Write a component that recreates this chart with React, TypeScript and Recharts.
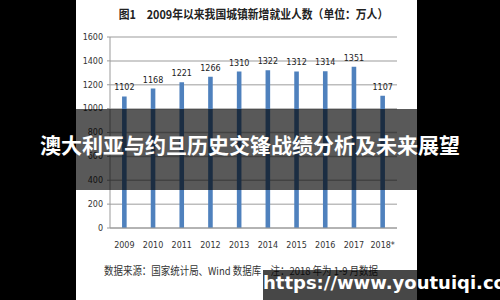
import React from "react";
import { BarChart, Bar, XAxis, YAxis, CartesianGrid, LabelList } from "recharts";

const years = ["2009", "2010", "2011", "2012", "2013", "2014", "2015", "2016", "2017", "2018*"];
const newJobs = [1102, 1168, 1221, 1266, 1310, 1322, 1312, 1314, 1351, 1107];
const yTicks = [0, 200, 400, 600, 800, 1000, 1200, 1400, 1600];

const titleText = "图1　2009年以来我国城镇新增就业人数（单位：万人）";
const sourceText = "数据来源：国家统计局、Wind 数据库　注：2018 年为 1-9 月数据";
const overlayText = "澳大利亚与约旦历史交锋战绩分析及未来展望";
const watermarkText = "https://www.youtuiqi.com";

const data = years.map((y, i) => ({ year: y, value: newJobs[i] }));

export default function App() {
  return (
    <div style={{ position: "fixed", left: 0, top: 0, width: 500, height: 300, background: "#000", overflow: "hidden" }}>
      <div style={{ position: "absolute", left: 76, top: 0, width: 341, height: 300, background: "#fff" }} />
      <div
        style={{
          position: "absolute", left: 76, top: 5, width: 341, textAlign: "center",
          fontFamily: "'Noto Sans CJK SC', sans-serif", fontWeight: 700, fontSize: 12, color: "#222",
          whiteSpace: "nowrap", transform: "scaleX(0.9)", transformOrigin: "240px 0",
        }}
      >
        {titleText}
      </div>
      <div style={{ position: "absolute", left: 0, top: 0 }}>
        <BarChart
          width={500}
          height={300}
          data={data}
          margin={{ top: 37, right: 103, bottom: 42, left: 70 }}
          barCategoryGap="58%"
        >
          <CartesianGrid vertical={false} stroke="#bdbdbd" strokeWidth={1.5} />
          <XAxis
            dataKey="year"
            height={30}
            stroke="#9a9a9a"
            tickLine={false}
            tick={{ fontSize: 8, fill: "#333", fontFamily: "'DejaVu Sans', sans-serif" }}
            tickMargin={8}
          />
          <YAxis
            width={40}
            domain={[0, 1600]}
            ticks={yTicks}
            stroke="#9a9a9a"
            tickSize={3}
            tickMargin={4}
            tick={{ fontSize: 8, fill: "#333", fontFamily: "'DejaVu Sans', sans-serif" }}
          />
          <Bar dataKey="value" fill="#4f81bd" isAnimationActive={false}>
            <LabelList
              dataKey="value"
              position="top"
              offset={6}
              style={{ fontSize: 8, fill: "#222", fontFamily: "'DejaVu Sans', sans-serif" }}
            />
          </Bar>
        </BarChart>
      </div>
      <div
        style={{
          position: "absolute", left: 104, top: 262, whiteSpace: "nowrap",
          fontFamily: "'Noto Sans CJK SC', sans-serif", fontSize: 11, color: "#333",
          transform: "scaleX(0.86)", transformOrigin: "0 0",
        }}
      >
        {sourceText}
      </div>
      <div style={{ position: "absolute", left: 0, top: 109, width: 500, height: 81, background: "rgba(0,0,0,0.65)" }} />
      <div
        style={{
          position: "absolute", left: 0, top: 129, width: 500, textAlign: "center",
          fontFamily: "'Noto Sans CJK SC', sans-serif", fontWeight: 700, fontSize: 21, color: "#fff",
        }}
      >
        {overlayText}
      </div>
      <div
        style={{
          position: "absolute", left: 263, top: 270, width: 237, height: 30, background: "rgba(0,0,0,0.72)",
        }}
      />
      <div
        style={{
          position: "absolute", left: 263, top: 272, width: 237, textAlign: "center",
          fontFamily: "'DejaVu Sans', sans-serif", fontWeight: 700, fontSize: 18, color: "#fff", whiteSpace: "nowrap",
        }}
      >
        {watermarkText}
      </div>
    </div>
  );
}
